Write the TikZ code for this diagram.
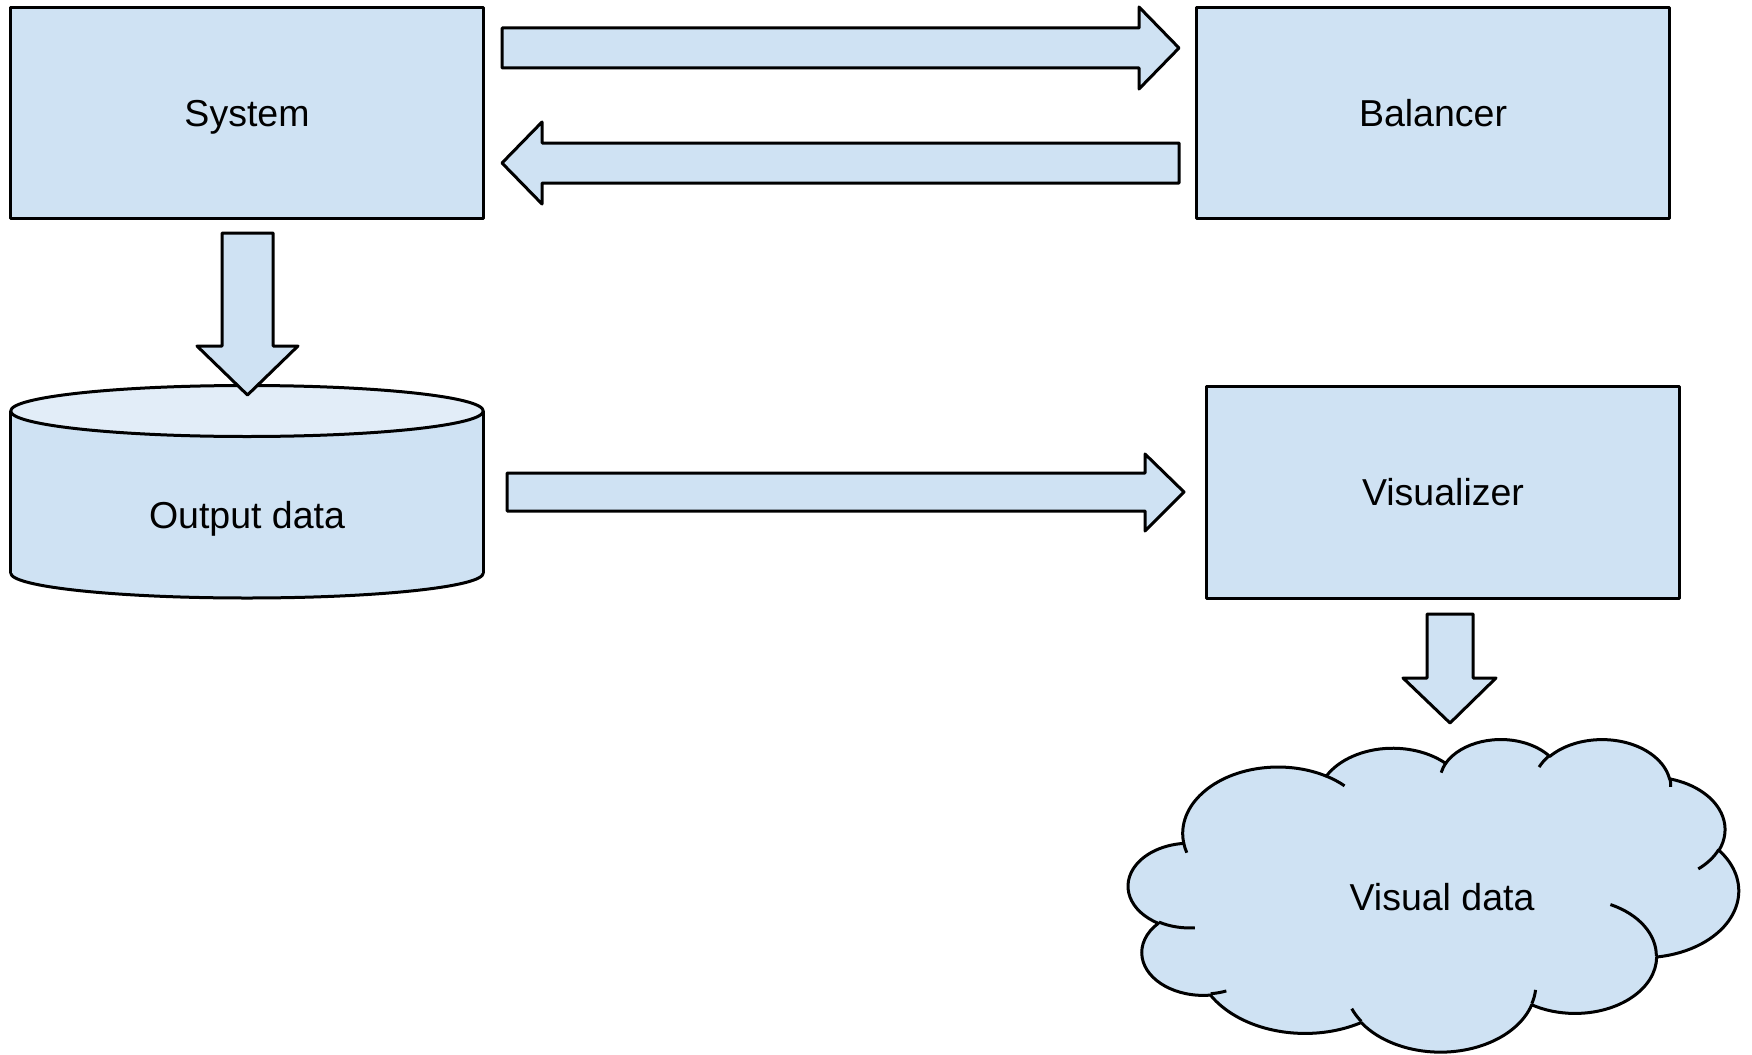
\documentclass[tikz,border=0pt]{standalone}
\usepackage{fontspec}
\setmainfont{Liberation Sans}
\definecolor{boxblue}{HTML}{CFE2F3}
\definecolor{topblue}{HTML}{E2EDF8}
\tikzset{
  cl/.style n args={4}{x radius=#1, y radius=#2,
    start angle={atan2(#1*sin(#3),#2*cos(#3))},
    delta angle={mod(atan2(#1*sin(#3+#4),#2*cos(#3+#4))-atan2(#1*sin(#3),#2*cos(#3))+720,360)}},
  procbox/.style={draw, fill=boxblue, minimum width=472.6pt, minimum height=210.6pt,
    text height=26.8pt, text depth=0pt, inner sep=0pt},
  lbl/.style={text height=26.8pt, text depth=0pt, inner sep=0pt},
  blockarrow/.style={draw, fill=boxblue},
  cloudfill/.style={draw, fill=boxblue},
}
\begin{document}
\begin{tikzpicture}[x=1pt,y=-1pt, line width=3pt, line join=round,
  every node/.style={font=\fontsize{37.5}{45}\selectfont}]
\useasboundingbox (0,0) rectangle (1752,1054);

% boxes
\node[procbox] (sys) at (247,113) {System};
\node[procbox] (bal) at (1433,113) {Balancer};
\node[procbox, minimum height=211.6pt] (viz) at (1443,492.5) {Visualizer};

% cylinder
\filldraw[fill=boxblue] (247,573) ellipse[x radius=236.3, y radius=25];
\fill[boxblue] (10.7,411) rectangle (483.3,573);
\draw (10.7,411) -- (10.7,573);
\draw (483.3,411) -- (483.3,573);
\filldraw[fill=topblue] (247,411) ellipse[x radius=236.3, y radius=25.5];
\node[lbl] (out) at (247,515) {Output data};

% cloud
\begin{scope}[shift={(1128.5,738.5)}, x=1.41204pt, y=-0.72338pt]
\path[cloudfill] (39.00,143.70)
  arc[cl={67.53}{91.90}{-190.48748}{123.78053}]
  arc[cl={53.33}{72.67}{-144.10238}{89.94523}]
  arc[cl={43.65}{59.45}{-145.80792}{99.72302}]
  arc[cl={48.57}{65.95}{-130.98607}{117.24173}]
  arc[cl={53.33}{72.73}{-78.70888}{109.02692}]
  arc[cl={67.75}{92.20}{-46.26725}{130.269}]
  arc[cl={57.85}{78.67}{0.62502}{114.03333}]
  arc[cl={67.52}{92.15}{22.4516}{115.17255}]
  arc[cl={77.20}{105.43}{66.24263}{75.71102}]
  arc[cl={43.60}{59.18}{-274.94208}{146.73557}]
  arc[cl={43.45}{59.45}{-246.8285}{152.5234}]
  -- cycle;
\draw (46.93,261.77) arc[cl={43.45}{59.45}{86.742}{26.4295}];
\draw (69.28,348.99) arc[cl={43.60}{59.18}{73.61047}{11.44747}];
\draw (164.78,390.90) arc[cl={67.52}{92.15}{137.62415}{14.0811}];
\draw (288.27,347.51) arc[cl={67.52}{92.15}{6.45327}{15.99835}];
\draw (341.29,229.54) arc[cl={57.85}{78.67}{-70.29235}{70.91737}];
\draw (417.98,153.54) arc[cl={53.33}{72.73}{30.31803}{27.7515}];
\draw (383.24,54.26) arc[cl={48.57}{65.95}{-13.74433}{14.8589}];
\draw (290.78,39.52) arc[cl={48.57}{65.95}{-149.18145}{18.19537}];
\draw (221.41,47.20) arc[cl={43.65}{59.45}{-163.49427}{17.68635}];
\draw (140.00,51.92) arc[cl={67.53}{91.90}{-66.70695}{12.31935}];
\draw (41.27,157.89) arc[cl={67.53}{91.90}{157.65435}{11.85817}];
\end{scope}
\node[lbl] (vis) at (1442,897) {Visual data};

% block arrows
\draw[blockarrow] (502,28) -- (1139,28) -- (1139,7) -- (1179,48) -- (1139,89) -- (1139,68) -- (502,68) -- cycle;
\draw[blockarrow] (1179,143) -- (542,143) -- (542,122) -- (502,163) -- (542,204) -- (542,183) -- (1179,183) -- cycle;
\draw[blockarrow] (222,233) -- (273,233) -- (273,346) -- (298,346) -- (247.5,395) -- (197,346) -- (222,346) -- cycle;
\draw[blockarrow] (507,473) -- (1145,473) -- (1145,454) -- (1184,492) -- (1145,531) -- (1145,511) -- (507,511) -- cycle;
\draw[blockarrow] (1427,614) -- (1473,614) -- (1473,678) -- (1496,678) -- (1450,723) -- (1403,678) -- (1427,678) -- cycle;
\end{tikzpicture}
\end{document}
